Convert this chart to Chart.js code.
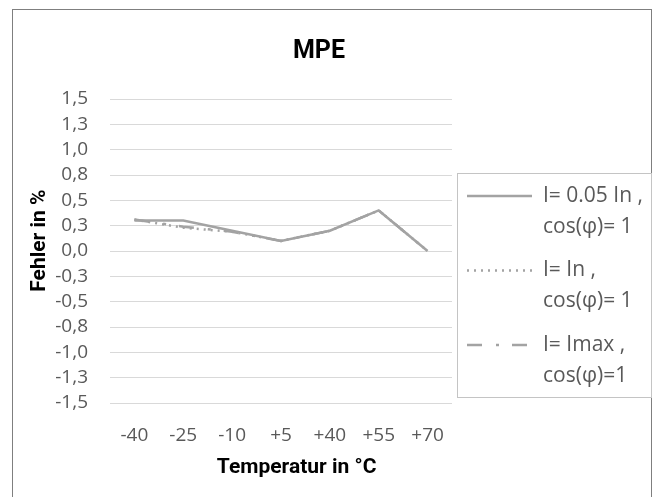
<!DOCTYPE html>
<html>
<head>
<meta charset="utf-8">
<script src="https://cdn.jsdelivr.net/npm/chart.js@4"></script>
<style>
  body { margin: 0; background: #fff; }
  #wrap { position: relative; width: 656px; height: 497px; overflow: hidden; }
  #frame { position: absolute; left: 12px; top: 9px; width: 638px; height: 520px; border: 1px solid #7f7f7f; }
  #myChart { position: absolute; left: 0; top: 0; }
</style>
</head>
<body>
<div id="wrap">
  <div id="frame"></div>
  <canvas id="myChart" width="656" height="497"></canvas>
</div>
<script>
// categories (temperature steps)
const temperatures = ["-40", "-25", "-10", "+5", "+40", "+55", "+70"];

// error values in %
const lowCurrent = [0.30, 0.30, 0.20, 0.10, 0.20, 0.40, 0.00];   // I = 0.05 In
const nominalCurrent = [0.31, 0.23, 0.19, 0.10, 0.20, 0.40, 0.00]; // I = In
const maxCurrent = [0.31, 0.24, 0.19, 0.10, 0.20, 0.40, 0.00];     // I = Imax

// legend texts, two lines each
const seriesNames = [
  ["I= 0.05 In ,", "cos(φ)= 1"],
  ["I= In ,", "cos(φ)= 1"],
  ["I= Imax ,", "cos(φ)=1"],
];

// y tick labels as shown (bottom to top)
const yTickLabels = ["-1,5", "-1,3", "-1,0", "-0,8", "-0,5", "-0,3", "0,0",
                     "0,3", "0,5", "0,8", "1,0", "1,3", "1,5"];

const lineColor = "#a3a3a3";
const textGray = "#595959";
const dashes = [[], [2, 5], [15, 14, 3, 13]];

let chartInstance;

// legend in a box right of the plot, multi-line labels
const boxLegend = {
  id: "boxLegend",
  afterDraw(chart) {
    const ctx = chart.ctx;
    const area = chart.chartArea;
    const x0 = area.right + 5;
    const y0 = area.top + 74;
    const w = 194, h = 224;
    ctx.save();
    ctx.strokeStyle = "#c4c4c4";
    ctx.lineWidth = 1;
    ctx.strokeRect(x0 + 0.5, y0 + 0.5, w, h);
    ctx.font = "21px 'Open Sans'";
    ctx.fillStyle = textGray;
    ctx.textBaseline = "middle";
    chart.data.datasets.forEach((ds, i) => {
      const yy = y0 + 23 + i * 74.5;
      ctx.beginPath();
      ctx.strokeStyle = ds.borderColor;
      ctx.lineWidth = ds.borderWidth;
      ctx.setLineDash(ds.borderDash || []);
      ctx.moveTo(x0 + 10, yy);
      ctx.lineTo(x0 + 75, yy);
      ctx.stroke();
      ctx.setLineDash([]);
      seriesNames[i].forEach((line, j) => {
        ctx.fillText(line, x0 + 86, yy + j * 31);
      });
    });
    ctx.restore();
  },
};

const createChart = () => {
  const ctx = document.getElementById("myChart").getContext("2d");
  if (chartInstance) {
    chartInstance.destroy();
  }

  const allSeries = [lowCurrent, nominalCurrent, maxCurrent];

  const data = {
    labels: temperatures,
    datasets: allSeries.map((values, i) => ({
      label: seriesNames[i].join(" "),
      data: values,
      borderColor: lineColor,
      borderWidth: 2.5,
      borderDash: dashes[i],
      pointRadius: 0,
      tension: 0,
      fill: false,
    })),
  };

  const config = {
    type: "line",
    data: data,
    options: {
      responsive: false,
      animation: false,
      layout: {
        padding: { left: 0, right: 18, top: 0, bottom: 0 },
      },
      plugins: {
        legend: { display: false },
        tooltip: { enabled: false },
        title: {
          display: true,
          text: "MPE",
          color: "#000",
          font: { family: "Roboto", size: 25, weight: "bold" },
          padding: { top: 37, bottom: 32 },
        },
      },
      scales: {
        x: {
          offset: true,
          grid: { display: false, drawTicks: false },
          border: { display: false },
          ticks: {
            color: textGray,
            font: { family: "'Open Sans'", size: 19 },
            padding: 21,
            maxRotation: 0,
            autoSkip: false,
          },
          title: {
            display: true,
            text: "      Temperatur in °C",
            color: "#000",
            font: { family: "Roboto", size: 21, weight: "bold" },
            padding: { top: 0, bottom: 17 },
          },
          afterFit: (scale) => { scale.height = 94; },
        },
        y: {
          min: -1.5,
          max: 1.5,
          grid: { color: "#d9d9d9", lineWidth: 1, drawTicks: false },
          border: { display: false },
          ticks: {
            stepSize: 0.25,
            autoSkip: false,
            color: textGray,
            font: { family: "'Open Sans'", size: 19 },
            padding: 22,
            callback: (value, index) => yTickLabels[index],
          },
          title: {
            display: true,
            text: "    Fehler in %",
            color: "#000",
            font: { family: "Roboto", size: 21, weight: "bold" },
            padding: { top: 27, bottom: 0 },
          },
          afterFit: (scale) => { scale.width = 110; },
        },
        // empty right-hand axis: keeps room for the legend box
        yRight: {
          position: "right",
          display: true,
          grid: { display: false, drawTicks: false },
          border: { display: false },
          ticks: { display: false },
          afterFit: (scale) => { scale.width = 186; },
        },
      },
    },
    plugins: [boxLegend],
  };

  chartInstance = new Chart(ctx, config);
};

document.addEventListener("DOMContentLoaded", createChart);
</script>
</body>
</html>
